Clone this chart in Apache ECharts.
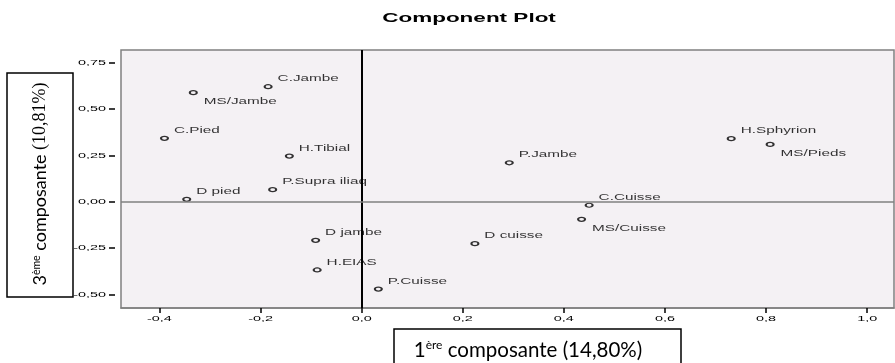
<!DOCTYPE html>
<html><head><meta charset="utf-8">
<script src="https://cdn.jsdelivr.net/npm/echarts@6/dist/echarts.min.js"></script>
<style>html,body{margin:0;padding:0;background:#fff}#c{width:895px;height:363px}</style>
</head><body><div id="c"></div>
<script>
// ---- data ----
const pointLabels = ['C.Jambe','MS/Jambe','C.Pied','H.Tibial','P.Supra iliaq','D pied','D jambe','H.EIAS','P.Cuisse','D cuisse','P.Jambe','C.Cuisse','MS/Cuisse','H.Sphyrion','MS/Pieds'];
const comp1 = [-0.185,-0.333,-0.390,-0.143,-0.176,-0.346,-0.091,-0.088,0.033,0.224,0.292,0.450,0.435,0.731,0.808];
const comp3 = [0.620,0.588,0.342,0.246,0.065,0.013,-0.208,-0.368,-0.471,-0.226,0.210,-0.019,-0.095,0.340,0.309];
const belowLabels = ['MS/Jambe','MS/Cuisse','MS/Pieds'];
const xTicks = [-0.4,-0.2,0,0.2,0.4,0.6,0.8,1.0];
const xTickLabels = ['-0,4','-0,2','0,0','0,2','0,4','0,6','0,8','1,0'];
const yTicks = [0.75,0.5,0.25,0,-0.25,-0.5];
const yTickLabels = ['0,75','0,50','0,25','0,00','-0,25','-0,50'];
const titleText = 'Component Plot';

// horizontally stretched text (the reference chart was stretched sideways)
const SX = 1.8;
function wrap(orig){
  return function(t,x,y,mw){
    if (this.font && this.font.indexOf('Liberation Sans') >= 0) {
      this.save(); this.translate(x,y); this.scale(SX,1);
      const r = (mw === undefined) ? orig.call(this,t,0,0) : orig.call(this,t,0,0,mw/SX);
      this.restore(); return r;
    }
    return (mw === undefined) ? orig.call(this,t,x,y) : orig.call(this,t,x,y,mw);
  };
}
CanvasRenderingContext2D.prototype.fillText = wrap(CanvasRenderingContext2D.prototype.fillText);
CanvasRenderingContext2D.prototype.strokeText = wrap(CanvasRenderingContext2D.prototype.strokeText);

function fmt(ticks, labs){
  return function(v){
    for (let i=0;i<ticks.length;i++) if (Math.abs(ticks[i]-v) < 1e-6) return labs[i];
    return '';
  };
}

const chart = echarts.init(document.getElementById('c'), null, {renderer:'canvas'});
const BG = '#F4F1F4';
chart.setOption({
  animation:false,
  title:{text:titleText, left:469, top:12, textAlign:'center', padding:0,
    textStyle:{fontFamily:'Liberation Sans', fontSize:12.5, fontWeight:'bold', color:'#000'}},
  grid:{left:121, right:1, top:50, bottom:55, show:true, backgroundColor:BG,
    borderColor:'#808080', borderWidth:1.5, outerBoundsMode:'none'},
  xAxis:{type:'value', min:-0.476, max:1.053, position:'bottom',
    axisLine:{show:true, onZero:false, lineStyle:{color:'#808080', width:1.5}},
    axisTick:{show:true, length:5, customValues:xTicks, lineStyle:{color:'#000', width:1.5}},
    axisLabel:{customValues:xTicks, formatter:fmt(xTicks,xTickLabels), margin:7,
      fontFamily:'Liberation Sans', fontSize:8, color:'#000'},
    splitLine:{show:false}},
  yAxis:{type:'value', min:-0.573, max:0.818, offset:6, position:'left',
    axisLine:{show:false, onZero:false},
    axisTick:{show:true, length:6, customValues:yTicks, lineStyle:{color:'#000', width:1.5}},
    axisLabel:{customValues:yTicks, formatter:fmt(yTicks,yTickLabels), margin:9,
      fontFamily:'Liberation Sans', fontSize:8, color:'#000'},
    splitLine:{show:false}},
  graphic:[
    {type:'rect', z:1, shape:{x:394, y:329, width:287, height:45},
      style:{fill:'rgba(0,0,0,0)', stroke:'#000', lineWidth:1.5}},
    {type:'text', z:2, x:528, y:350,
      style:{text:'{n|1}{s|ère}{n| composante (14,80%)}', align:'center', verticalAlign:'middle',
        textAlign:'center', textVerticalAlign:'middle',
        rich:{n:{fontFamily:'Lato', fontSize:20.5, color:'#000'},
              s:{fontFamily:'Lato', fontSize:12, color:'#000', verticalAlign:'top'}}}},
    {type:'rect', z:1, shape:{x:7, y:73, width:66, height:224},
      style:{fill:'rgba(0,0,0,0)', stroke:'#000', lineWidth:1.5}},
    {type:'text', z:2, x:40, y:184, rotation:Math.PI/2,
      style:{text:'{n|3}{s|ème}{n| composante}{t| (10,81%)}', align:'center', verticalAlign:'middle',
        textAlign:'center', textVerticalAlign:'middle',
        rich:{n:{fontFamily:'Lato', fontSize:18, color:'#000'},
              s:{fontFamily:'Lato', fontSize:10.5, color:'#000', verticalAlign:'top'},
              t:{fontFamily:'Liberation Serif', fontSize:18, color:'#000'}}}}
  ],
  series:[{
    type:'scatter',
    symbol:'circle', symbolSize:[7,4],
    itemStyle:{color:BG, borderColor:'#000', borderWidth:1.6},
    label:{show:true, position:'right', distance:4.9, formatter:'{b}',
      fontFamily:'Liberation Sans', fontSize:8.5, color:'#000'},
    emphasis:{disabled:true},
    data: pointLabels.map((n,i)=>({name:n, value:[comp1[i], comp3[i]],
      label:{offset: belowLabels.indexOf(n) >= 0 ? [1,9] : [0,-7.7]}})),
    markLine:{silent:true, symbol:'none', label:{show:false}, animation:false,
      data:[{xAxis:0, lineStyle:{color:'#000', width:2, type:'solid'}},
            {yAxis:0, lineStyle:{color:'#808080', width:1.5, type:'solid'}}]}
  }]
});
</script>
</body></html>
